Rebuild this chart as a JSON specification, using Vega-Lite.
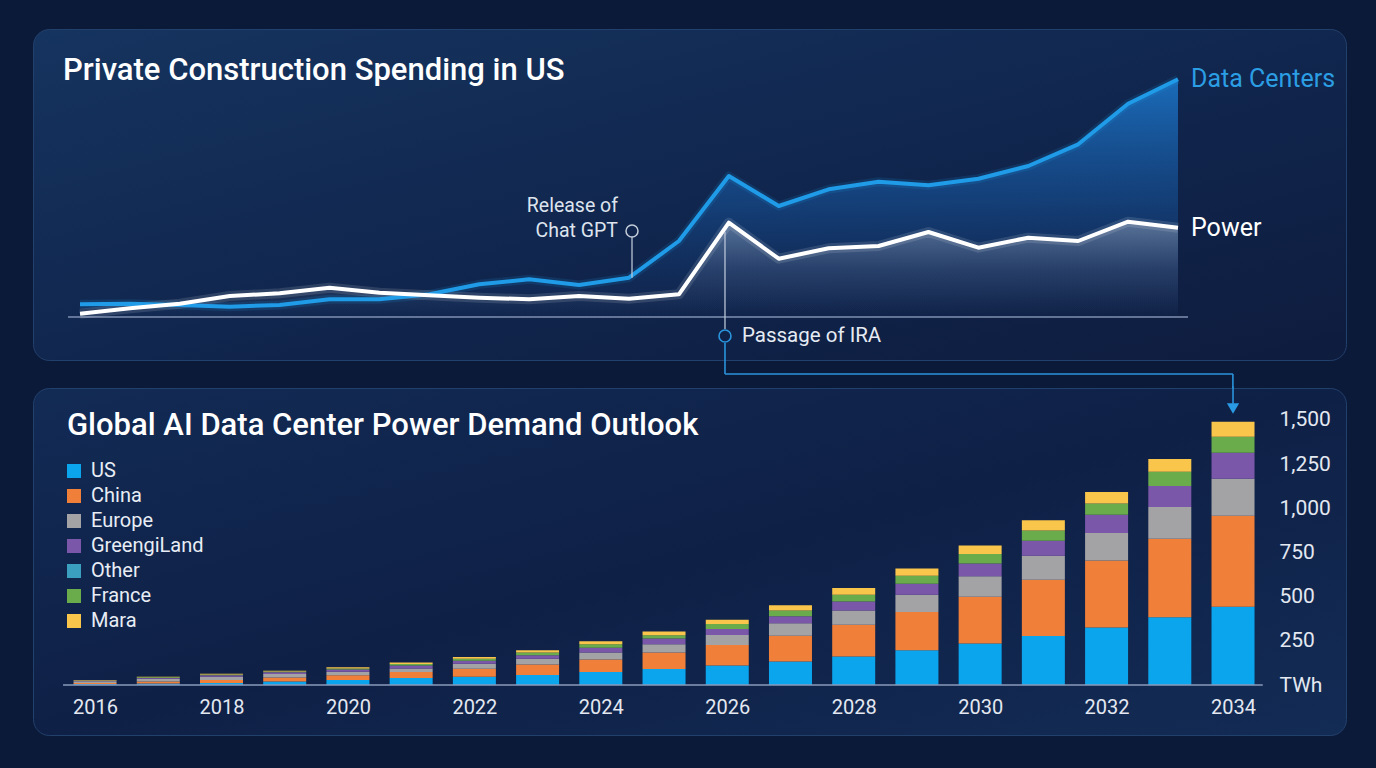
{
  "$schema": "https://vega.github.io/schema/vega-lite/v6.json",
  "background": "#0c1a3a",
  "padding": {"left": 32, "top": 28, "right": 31, "bottom": 34},
  "spacing": 28,
  "bounds": "flush",
  "resolve": {"scale": {"color": "independent"}, "legend": {"color": "independent"}},
  "config": {"view": {"stroke": null}, "font": "Roboto"},
  "datasets": {
    "spend": [
      {"i": 0, "dc": 12.7, "pw": 3.3},
      {"i": 1, "dc": 13.3, "pw": 8.7},
      {"i": 2, "dc": 12, "pw": 13.3},
      {"i": 3, "dc": 10.3, "pw": 21},
      {"i": 4, "dc": 12, "pw": 23.7},
      {"i": 5, "dc": 17.7, "pw": 29.3},
      {"i": 6, "dc": 17.7, "pw": 24.3},
      {"i": 7, "dc": 22.7, "pw": 21.7},
      {"i": 8, "dc": 32.7, "pw": 19.3},
      {"i": 9, "dc": 37.7, "pw": 17.7},
      {"i": 10, "dc": 32, "pw": 21},
      {"i": 11, "dc": 39.3, "pw": 18.3},
      {"i": 12, "dc": 76, "pw": 22.7},
      {"i": 13, "dc": 141, "pw": 94.3},
      {"i": 14, "dc": 111, "pw": 58.3},
      {"i": 15, "dc": 127.7, "pw": 68.7},
      {"i": 16, "dc": 135.3, "pw": 71},
      {"i": 17, "dc": 131.7, "pw": 85},
      {"i": 18, "dc": 138.3, "pw": 69.3},
      {"i": 19, "dc": 151, "pw": 79.3},
      {"i": 20, "dc": 172.7, "pw": 76},
      {"i": 21, "dc": 213.3, "pw": 95.3},
      {"i": 22, "dc": 237.7, "pw": 89.3}
    ],
    "demand": [
      {"year": 2016, "US": 5, "China": 6, "Europe": 10, "GreengiLand": 3, "Other": 0, "France": 2, "Mara": 2},
      {"year": 2017, "US": 8, "China": 12, "Europe": 15, "GreengiLand": 5, "Other": 0, "France": 4, "Mara": 3},
      {"year": 2018, "US": 12, "China": 17, "Europe": 18, "GreengiLand": 8, "Other": 0, "France": 5, "Mara": 4},
      {"year": 2019, "US": 20, "China": 22, "Europe": 20, "GreengiLand": 10, "Other": 0, "France": 5, "Mara": 4},
      {"year": 2020, "US": 28, "China": 27, "Europe": 20, "GreengiLand": 13, "Other": 0, "France": 6, "Mara": 6},
      {"year": 2021, "US": 40, "China": 34, "Europe": 19, "GreengiLand": 17, "Other": 0, "France": 9, "Mara": 9},
      {"year": 2022, "US": 47, "China": 45, "Europe": 28, "GreengiLand": 17, "Other": 0, "France": 11, "Mara": 11},
      {"year": 2023, "US": 57, "China": 59, "Europe": 32, "GreengiLand": 21, "Other": 0, "France": 15, "Mara": 13},
      {"year": 2024, "US": 74, "China": 70, "Europe": 40, "GreengiLand": 27, "Other": 0, "France": 19, "Mara": 17},
      {"year": 2025, "US": 91, "China": 93, "Europe": 47, "GreengiLand": 32, "Other": 0, "France": 19, "Mara": 21},
      {"year": 2026, "US": 110, "China": 116, "Europe": 57, "GreengiLand": 34, "Other": 0, "France": 28, "Mara": 25},
      {"year": 2027, "US": 133, "China": 146, "Europe": 70, "GreengiLand": 40, "Other": 0, "France": 32, "Mara": 30},
      {"year": 2028, "US": 161, "China": 180, "Europe": 81, "GreengiLand": 51, "Other": 0, "France": 38, "Mara": 38},
      {"year": 2029, "US": 197, "China": 216, "Europe": 98, "GreengiLand": 62, "Other": 0, "France": 45, "Mara": 42},
      {"year": 2030, "US": 235, "China": 265, "Europe": 116, "GreengiLand": 72, "Other": 0, "France": 53, "Mara": 49},
      {"year": 2031, "US": 278, "China": 318, "Europe": 136, "GreengiLand": 85, "Other": 0, "France": 57, "Mara": 59},
      {"year": 2032, "US": 326, "China": 379, "Europe": 155, "GreengiLand": 104, "Other": 0, "France": 64, "Mara": 64},
      {"year": 2033, "US": 383, "China": 445, "Europe": 180, "GreengiLand": 119, "Other": 0, "France": 80, "Mara": 72},
      {"year": 2034, "US": 443, "China": 515, "Europe": 209, "GreengiLand": 147, "Other": 0, "France": 91, "Mara": 85}
    ]
  },
  "vconcat": [
    {
      "width": 1313,
      "height": 331,
      "view": {
        "fill": {"gradient": "linear", "x1": 0, "y1": 0, "x2": 1, "y2": 1, "stops": [{"offset": 0, "color": "#15345f"}, {"offset": 0.6, "color": "#10244b"}, {"offset": 1, "color": "#0e1c3e"}]},
        "stroke": "#22406c",
        "strokeWidth": 1,
        "cornerRadius": 16
      },
      "title": {"text": "Private Construction Spending in US", "anchor": "start", "frame": "group", "offset": -57.5, "dx": 30, "fontSize": 31, "fontWeight": 500, "font": "Roboto", "color": "#ffffff"},
      "encoding": {
        "x": {"field": "i", "type": "quantitative", "scale": {"domain": [-0.942, 25.366], "nice": false, "zero": false}, "axis": null},
        "y": {"field": "v", "type": "quantitative", "scale": {"domain": [-43, 288], "nice": false, "zero": false}, "axis": null}
      },
      "layer": [
        {
          "data": {"name": "spend"},
          "transform": [{"fold": ["dc", "pw"], "as": ["s", "v"]}, {"filter": "datum.s == 'dc'"}],
          "mark": {"type": "area", "color": {"gradient": "linear", "x1": 0, "y1": 0, "x2": 0, "y2": 1, "stops": [{"offset": 0, "color": "rgba(28,120,205,0.85)"}, {"offset": 0.55, "color": "rgba(24,90,165,0.45)"}, {"offset": 1, "color": "rgba(20,60,120,0.05)"}]}},
          "encoding": {"y2": {"datum": 0}}
        },
        {
          "data": {"name": "spend"},
          "transform": [{"fold": ["dc", "pw"], "as": ["s", "v"]}, {"filter": "datum.s == 'pw'"}],
          "mark": {"type": "area", "color": {"gradient": "linear", "x1": 0, "y1": 0, "x2": 0, "y2": 1, "stops": [{"offset": 0, "color": "rgba(255,255,255,0.30)"}, {"offset": 0.5, "color": "rgba(200,215,240,0.12)"}, {"offset": 1, "color": "rgba(200,215,240,0)"}]}},
          "encoding": {"y2": {"datum": 0}}
        },
        {
          "data": {"values": [{"i": -0.24, "v": 0, "i2": 22.2, "v2": 0}]},
          "mark": {"type": "rule", "color": "#7f91b2", "strokeWidth": 1.5},
          "encoding": {"x2": {"field": "i2"}, "y2": {"field": "v2"}}
        },
        {
          "data": {"name": "spend"},
          "transform": [{"fold": ["dc", "pw"], "as": ["s", "v"]}, {"filter": "datum.s == 'dc'"}],
          "mark": {"type": "line", "color": "#1e9ae6", "strokeWidth": 9, "opacity": 0.14, "strokeJoin": "round"},
          "encoding": {}
        },
        {
          "data": {"name": "spend"},
          "transform": [{"fold": ["dc", "pw"], "as": ["s", "v"]}, {"filter": "datum.s == 'pw'"}],
          "mark": {"type": "line", "color": "#ffffff", "strokeWidth": 10, "opacity": 0.12, "strokeJoin": "round"},
          "encoding": {}
        },
        {
          "data": {"name": "spend"},
          "transform": [{"fold": ["dc", "pw"], "as": ["s", "v"]}, {"filter": "datum.s == 'dc'"}],
          "mark": {"type": "line", "color": "#1f9be8", "strokeWidth": 4, "strokeJoin": "round"},
          "encoding": {}
        },
        {
          "data": {"name": "spend"},
          "transform": [{"fold": ["dc", "pw"], "as": ["s", "v"]}, {"filter": "datum.s == 'pw'"}],
          "mark": {"type": "line", "color": "#ffffff", "strokeWidth": 4, "strokeJoin": "round"},
          "encoding": {}
        },
        {
          "data": {"values": [{"i": 22, "v": 237.7, "t": "Data Centers"}]},
          "mark": {"type": "text", "align": "left", "baseline": "middle", "dx": 13, "fontSize": 25, "font": "Roboto", "color": "#2b9ee4"},
          "encoding": {"text": {"field": "t"}}
        },
        {
          "data": {"values": [{"i": 22, "v": 89.3, "t": "Power"}]},
          "mark": {"type": "text", "align": "left", "baseline": "middle", "dx": 13, "fontSize": 25, "font": "Roboto", "color": "#ffffff"},
          "encoding": {"text": {"field": "t"}}
        },
        {
          "data": {"values": [
            {"i": 11.06, "v": 80, "i2": 11.06, "v2": 39.3},
            {"i": 12.923, "v": 85, "i2": 12.923, "v2": -12}
          ]},
          "mark": {"type": "rule", "color": "#b9c4d6", "strokeWidth": 1.3},
          "encoding": {"x2": {"field": "i2"}, "y2": {"field": "v2"}}
        },
        {
          "data": {"values": [
            {"i": 12.923, "v": -26, "i2": 12.923, "v2": -57},
            {"i": 12.923, "v": -57, "i2": 23.1, "v2": -57},
            {"i": 23.1, "v": -57, "i2": 23.1, "v2": -72}
          ]},
          "mark": {"type": "rule", "color": "#2a94dc", "strokeWidth": 1.6},
          "encoding": {"x2": {"field": "i2"}, "y2": {"field": "v2"}}
        },
        {
          "data": {"values": [{"i": 11.06, "v": 86}]},
          "mark": {"type": "point", "shape": "circle", "size": 144, "filled": false, "color": "#c3ccdb", "strokeWidth": 1.5, "opacity": 1},
          "encoding": {}
        },
        {
          "data": {"values": [{"i": 12.923, "v": -19}]},
          "mark": {"type": "point", "shape": "circle", "size": 144, "filled": false, "color": "#2a94dc", "strokeWidth": 1.6, "opacity": 1},
          "encoding": {}
        },
        {
          "data": {"values": [{"i": 11.06, "v": 111, "t": "Release of"}, {"i": 11.06, "v": 86, "t": "Chat GPT"}]},
          "mark": {"type": "text", "align": "right", "baseline": "middle", "dx": -14, "fontSize": 19.5, "font": "Roboto", "color": "#dde4ee"},
          "encoding": {"text": {"field": "t"}}
        },
        {
          "data": {"values": [{"i": 12.923, "v": -19, "t": "Passage of IRA"}]},
          "mark": {"type": "text", "align": "left", "baseline": "middle", "dx": 17, "fontSize": 20.5, "font": "Roboto", "color": "#e6ebf3"},
          "encoding": {"text": {"field": "t"}}
        }
      ]
    },
    {
      "width": 1313,
      "height": 347,
      "view": {
        "fill": {"gradient": "linear", "x1": 0, "y1": 0, "x2": 1, "y2": 1, "stops": [{"offset": 0, "color": "#122b55"}, {"offset": 0.5, "color": "#0f2046"}, {"offset": 1, "color": "#132c55"}]},
        "stroke": "#22406c",
        "strokeWidth": 1,
        "cornerRadius": 16
      },
      "title": {"text": "Global AI Data Center Power Demand Outlook", "anchor": "start", "frame": "group", "offset": -56.5, "dx": 34, "fontSize": 31, "fontWeight": 500, "font": "Roboto", "color": "#ffffff"},
      "encoding": {
        "x": {"field": "year", "type": "quantitative", "scale": {"domain": [2015.0185, 2035.787], "nice": false, "zero": false, "padding": 0},
          "axis": {"orient": "bottom", "offset": -50, "values": [2016, 2018, 2020, 2022, 2024, 2026, 2028, 2030, 2032, 2034], "format": "d", "domain": false, "ticks": false, "grid": false, "title": null, "labelFontSize": 20, "labelFont": "Roboto", "labelColor": "#e3e8f1", "labelPadding": 12}},
        "y": {"field": "twh", "type": "quantitative", "scale": {"domain": [-283, 1681.1], "nice": false, "zero": false},
          "axis": {"orient": "right", "offset": -72, "values": [0, 250, 500, 750, 1000, 1250, 1500], "labelExpr": "datum.value == 0 ? 'TWh' : format(datum.value, ',')", "domain": false, "ticks": false, "grid": false, "title": null, "labelFontSize": 21, "labelFont": "Roboto", "labelColor": "#e3e8f1", "labelPadding": 5}}
      },
      "layer": [
        {
          "data": {"name": "demand"},
          "transform": [
            {"fold": ["US", "China", "Europe", "GreengiLand", "Other", "France", "Mara"], "as": ["region", "twh"]},
            {"calculate": "indexof(['US','China','Europe','GreengiLand','Other','France','Mara'], datum.region)", "as": "rk"}
          ],
          "mark": {"type": "bar", "size": 43},
          "encoding": {
            "order": {"field": "rk", "type": "quantitative", "sort": "ascending"},
            "color": {
              "field": "region", "type": "nominal",
              "sort": ["US", "China", "Europe", "GreengiLand", "Other", "France", "Mara"],
              "scale": {"domain": ["US", "China", "Europe", "GreengiLand", "Other", "France", "Mara"], "range": ["#0ba5ee", "#f07f3a", "#a3a3a6", "#7b57aa", "#3ba0c0", "#6aab4b", "#f9c54a"]},
              "legend": {"orient": "none", "legendX": 31, "legendY": 73, "title": null, "symbolType": "square", "symbolSize": 196, "symbolStrokeWidth": 0, "symbolOpacity": 1, "labelFontSize": 20, "labelFont": "Roboto", "labelColor": "#e8edf5", "rowPadding": 5, "labelOffset": 7, "padding": 0}
            }
          }
        },
        {
          "data": {"values": [{"year": 2015.494, "year2": 2034.47, "twh": 0, "twh2": 0}]},
          "mark": {"type": "rule", "color": "#8a9bbb", "strokeWidth": 1.5},
          "encoding": {"x2": {"field": "year2"}, "y2": {"field": "twh2"}}
        },
        {
          "data": {"values": [{"year": 2034, "year2": 2034, "twh": 1690, "twh2": 1592}]},
          "mark": {"type": "rule", "color": "#2a94dc", "strokeWidth": 1.6},
          "encoding": {"x2": {"field": "year2"}, "y2": {"field": "twh2"}}
        },
        {
          "data": {"values": [{"year": 2034, "twh": 1565}]},
          "mark": {"type": "point", "shape": "triangle-down", "size": 150, "filled": true, "color": "#2a9ae4", "opacity": 1},
          "encoding": {}
        }
      ]
    }
  ]
}
